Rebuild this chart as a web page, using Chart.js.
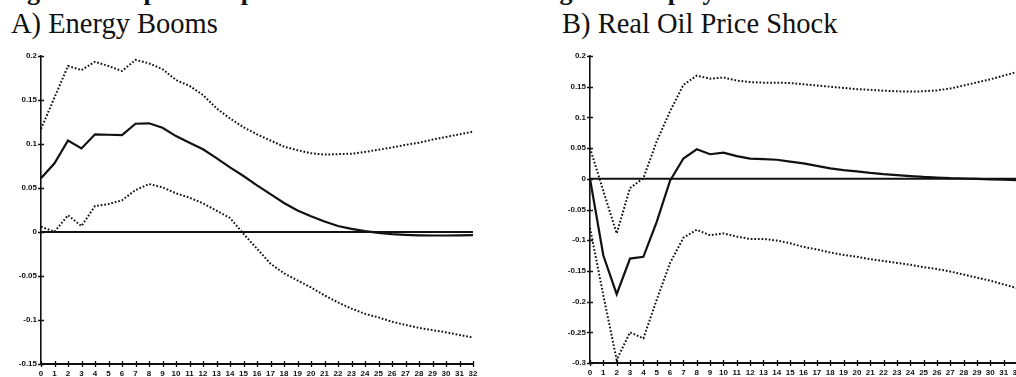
<!DOCTYPE html>
<html>
<head>
<meta charset="utf-8">
<script src="https://cdn.jsdelivr.net/npm/chart.js@4.4.1/dist/chart.umd.min.js"></script>
<style>
  html, body { margin: 0; padding: 0; background: #fff; overflow: hidden; width: 1016px; height: 377px; }
  .caption { position: absolute; white-space: nowrap; font-family: "Liberation Serif", "Times New Roman", serif; line-height: 1; color: #111; }
  #figTitle { left: 4px; top: -21px; font-size: 26px; font-weight: bold; }
  #titleA { left: 11px; top: 10px; font-size: 28.5px; }
  #titleB { left: 562px; top: 10px; font-size: 28.5px; }
  canvas { position: absolute; top: 0; }
  #chartA { left: 0; }
  #chartB { left: 508px; }
</style>
</head>
<body>
<div class="caption" id="figTitle">Figure 1: Impulse response functions. Shared along with employment</div>
<div class="caption" id="titleA">A) Energy Booms</div>
<div class="caption" id="titleB">B) Real Oil Price Shock</div>
<canvas id="chartA" width="500" height="377"></canvas>
<canvas id="chartB" width="540" height="377"></canvas>
<script>
// Horizon (periods after the shock)
const periods = Array.from({ length: 33 }, (_, i) => String(i));

// Panel A: energy booms
const energyResp = [0.061, 0.078, 0.104, 0.095, 0.111, 0.1105, 0.110, 0.123, 0.1235, 0.1185, 0.109, 0.1015, 0.094, 0.084, 0.0735, 0.0636,
  0.053, 0.043, 0.033, 0.0245, 0.018, 0.012, 0.0068, 0.0035, 0.001, -0.001, -0.0025, -0.0033, -0.0038, -0.004, -0.004, -0.0038, -0.0035];
const energyUpper = [0.117, 0.153, 0.1886, 0.184, 0.1935, 0.1886, 0.183, 0.1955, 0.1917, 0.185, 0.1727, 0.166, 0.1557, 0.1405, 0.129, 0.119,
  0.111, 0.104, 0.097, 0.093, 0.0895, 0.088, 0.0885, 0.089, 0.091, 0.0935, 0.096, 0.099, 0.1015, 0.105, 0.108, 0.111, 0.114];
const energyLower = [0.006, 0.0003, 0.019, 0.0068, 0.0295, 0.0318, 0.036, 0.0477, 0.0545, 0.0508, 0.044, 0.039, 0.0326, 0.0242, 0.016, -0.002,
  -0.019, -0.036, -0.047, -0.055, -0.063, -0.072, -0.080, -0.087, -0.093, -0.097, -0.102, -0.1055, -0.109, -0.1115, -0.114, -0.117, -0.120];
const energyTicks = [-0.15, -0.1, -0.05, 0, 0.05, 0.1, 0.15, 0.2];

// Panel B: real oil price shock
const oilResp = [0, -0.125, -0.188, -0.130, -0.127, -0.070, -0.003, 0.033, 0.048, 0.040, 0.0425, 0.037, 0.033, 0.032, 0.031, 0.028,
  0.025, 0.021, 0.017, 0.014, 0.012, 0.0095, 0.0075, 0.006, 0.0045, 0.003, 0.002, 0.001, 0.0005, 0, -0.001, -0.0015, -0.002];
const oilUpper = [0.05, -0.02, -0.089, -0.015, 0.001, 0.061, 0.11, 0.153, 0.168, 0.163, 0.165, 0.160, 0.1575, 0.1565, 0.1565, 0.156,
  0.154, 0.152, 0.150, 0.148, 0.146, 0.145, 0.1435, 0.1425, 0.142, 0.1425, 0.144, 0.147, 0.152, 0.157, 0.162, 0.168, 0.174];
const oilLower = [-0.08, -0.19, -0.295, -0.25, -0.26, -0.197, -0.137, -0.096, -0.083, -0.092, -0.089, -0.094, -0.098, -0.098, -0.1005, -0.105,
  -0.111, -0.115, -0.120, -0.124, -0.127, -0.131, -0.134, -0.137, -0.140, -0.144, -0.147, -0.151, -0.156, -0.161, -0.166, -0.172, -0.178];
const oilTicks = [-0.3, -0.25, -0.2, -0.15, -0.1, -0.05, 0, 0.05, 0.1, 0.15, 0.2];

const INK = '#111';
const tickFont = { family: '"Liberation Sans Narrow", "Arial Narrow", "Liberation Sans", Arial, sans-serif', size: 8, weight: 'bold' };

// Small "+" marks straddling both axes at every tick
const crossTicks = {
  id: 'crossTicks',
  afterDatasetsDraw(chart) {
    const { ctx, scales: { x, y } } = chart;
    ctx.save();
    ctx.strokeStyle = INK;
    ctx.lineWidth = 1.3;
    ctx.beginPath();
    x.ticks.forEach((t, i) => {
      const px = Math.round(x.getPixelForTick(i)) + 0.5;
      ctx.moveTo(px, y.bottom - 3);
      ctx.lineTo(px, y.bottom + 3);
    });
    y.ticks.forEach((t, i) => {
      const py = Math.round(y.getPixelForTick(i)) + 0.5;
      ctx.moveTo(x.left - 3, py);
      ctx.lineTo(x.left + 3, py);
    });
    ctx.stroke();
    ctx.restore();
  }
};

function makeChart(id, resp, upper, lower, tickVals, area) {
  const zero = periods.map(() => 0);
  const dotted = { borderColor: INK, borderWidth: 2, borderDash: [1.7, 1.9], pointRadius: 0, fill: false, tension: 0 };
  return new Chart(document.getElementById(id), {
    type: 'line',
    data: {
      labels: periods,
      datasets: [
        { data: zero, borderColor: INK, borderWidth: 2, pointRadius: 0, fill: false },
        Object.assign({ data: upper }, dotted),
        Object.assign({ data: lower }, dotted),
        { data: resp, borderColor: INK, borderWidth: 2.2, pointRadius: 0, fill: false, tension: 0 }
      ]
    },
    options: {
      responsive: false,
      animation: false,
      devicePixelRatio: 1,
      layout: { padding: { left: 0, top: area.top, right: area.right, bottom: 0 } },
      plugins: { legend: { display: false }, tooltip: { enabled: false }, title: { display: false } },
      scales: {
        x: {
          type: 'category',
          offset: false,
          grid: { display: false, drawTicks: false },
          border: { display: true, color: INK, width: 2 },
          ticks: { color: INK, font: tickFont, padding: 5, maxRotation: 0, autoSkip: false },
          afterFit(scale) { scale.height = area.xHeight; }
        },
        y: {
          min: tickVals[0],
          max: tickVals[tickVals.length - 1],
          grid: { display: false, drawTicks: false },
          border: { display: true, color: INK, width: 1.6 },
          ticks: {
            color: INK, font: tickFont, padding: 4,
            callback: (v) => String(Number(v.toFixed(2)))
          },
          afterBuildTicks(scale) { scale.ticks = tickVals.map(v => ({ value: v })); },
          afterFit(scale) { scale.width = area.yWidth; }
        }
      }
    },
    plugins: [crossTicks]
  });
}

makeChart('chartA', energyResp, energyUpper, energyLower, energyTicks, { top: 56, right: 27, xHeight: 13, yWidth: 41 });
makeChart('chartB', oilResp, oilUpper, oilLower, oilTicks, { top: 56, right: 31, xHeight: 14, yWidth: 82 });
</script>
</body>
</html>
